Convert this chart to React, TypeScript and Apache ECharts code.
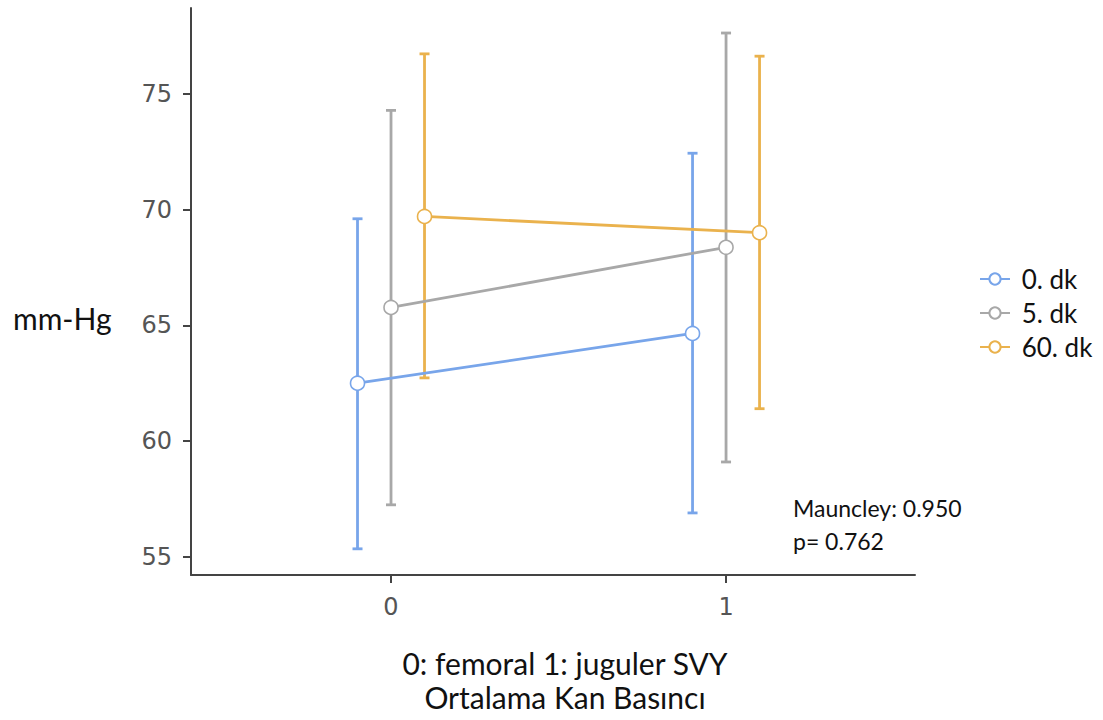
import React, { useEffect, useRef } from "react";
import * as echarts from "echarts";

// Group positions (0 = femoral, 1 = juguler) and dodge offsets per time point
const groups = [0, 1];
const seriesNames = ["0. dk", "5. dk", "60. dk"];
const dodge = [-0.1, 0, 0.1];
const colors = ["#78a5ea", "#a8a8a8", "#eab24d"];

// Mean arterial pressure (mm-Hg) with interval bounds
const meanValues = [
  [62.5, 64.65],
  [65.77, 68.37],
  [69.7, 69.0],
];
const lowValues = [
  [55.35, 56.9],
  [57.25, 59.1],
  [62.73, 61.4],
];
const highValues = [
  [69.6, 72.43],
  [74.28, 77.62],
  [76.72, 76.62],
];

const yTicks = [55, 60, 65, 70, 75];
const xTicks = [0, 1];

export default function App() {
  const ref = useRef<HTMLDivElement>(null);

  useEffect(() => {
    if (!ref.current) return;
    const chart = echarts.init(ref.current, undefined, { renderer: "svg" });

    const lineSeries = seriesNames.map((name, i) => ({
      name,
      type: "line",
      z: 3,
      data: groups.map((g, j) => [g + dodge[i], meanValues[i][j]]),
      symbol: "circle",
      symbolSize: 14,
      showAllSymbol: true,
      lineStyle: { color: colors[i], width: 2.8 },
      itemStyle: { color: "#ffffff", borderColor: colors[i], borderWidth: 1.6 },
      emphasis: { disabled: true },
    }));

    const errorSeries = seriesNames.map((name, i) => ({
      name: name + " range",
      type: "custom",
      z: 2,
      data: groups.map((g, j) => [g + dodge[i], lowValues[i][j], highValues[i][j]]),
      renderItem: (params: any, api: any) => {
        const x = api.value(0);
        const lo = api.coord([x, api.value(1)]);
        const hi = api.coord([x, api.value(2)]);
        const cap = 5;
        const style = { stroke: colors[i], lineWidth: 2.8 };
        return {
          type: "group",
          children: [
            { type: "line", shape: { x1: lo[0], y1: lo[1], x2: hi[0], y2: hi[1] }, style },
            { type: "line", shape: { x1: hi[0] - cap, y1: hi[1], x2: hi[0] + cap, y2: hi[1] }, style },
            { type: "line", shape: { x1: lo[0] - cap, y1: lo[1], x2: lo[0] + cap, y2: lo[1] }, style },
          ],
        };
      },
    }));

    chart.setOption({
      animation: false,
      grid: { left: 191, right: 188, top: 8, bottom: 145 },
      xAxis: {
        type: "value",
        min: -0.597,
        max: 1.564,
        splitLine: { show: false },
        axisLine: { onZero: false, lineStyle: { color: "#444", width: 2 } },
        axisTick: { show: true, length: 8, lineStyle: { color: "#444", width: 2 }, customValues: xTicks },
        axisLabel: {
          customValues: xTicks,
          margin: 20,
          color: "#555",
          fontFamily: "DejaVu Sans",
          fontSize: 24,
        },
      },
      yAxis: {
        type: "value",
        min: 54.22,
        max: 78.7,
        splitLine: { show: false },
        axisLine: { show: true, onZero: false, lineStyle: { color: "#444", width: 2 } },
        axisTick: { show: true, length: 8, lineStyle: { color: "#444", width: 2 }, customValues: yTicks },
        axisLabel: {
          customValues: yTicks,
          margin: 19,
          color: "#555",
          fontFamily: "DejaVu Sans",
          fontSize: 24,
        },
      },
      legend: {
        orient: "vertical",
        left: 979,
        top: 266,
        padding: 0,
        itemWidth: 30,
        itemHeight: 14,
        itemGap: 8,
        data: seriesNames,
        formatter: (name: string) => " " + name,
        textStyle: { fontFamily: "Lato", fontSize: 26, color: "#111" },
      },
      graphic: [
        {
          type: "text",
          x: 13,
          y: 318,
          style: { text: "mm-Hg", font: "30px Lato", fill: "#111", verticalAlign: "middle" },
        },
        {
          type: "text",
          top: 491,
          left: 793,
          style: {
            text: "Mauncley: 0.950\np= 0.762",
            font: "23px Lato",
            fill: "#111",
            lineHeight: 33,
            verticalAlign: "top",
          },
        },
        {
          type: "text",
          x: 565,
          y: 680,
          style: {
            text: "0: femoral 1: juguler SVY\nOrtalama Kan Basıncı",
            font: "30px Lato",
            fill: "#111",
            align: "center",
            verticalAlign: "middle",
            lineHeight: 34,
          },
        },
      ],
      series: [...errorSeries, ...lineSeries],
    });

    return () => chart.dispose();
  }, []);

  return (
    <div
      ref={ref}
      style={{ position: "fixed", left: 0, top: 0, width: 1103, height: 720, background: "#fff" }}
    />
  );
}
